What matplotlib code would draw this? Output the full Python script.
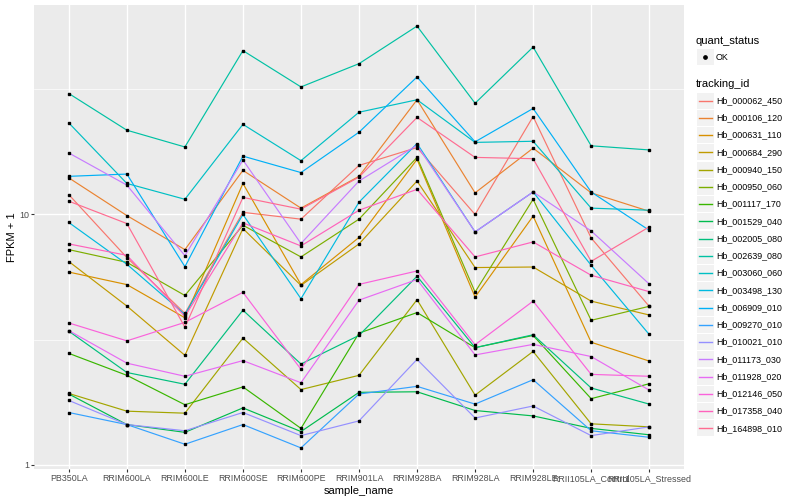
import matplotlib
matplotlib.use('Agg')
import matplotlib.pyplot as plt
import numpy as np
from matplotlib.patches import Rectangle
from matplotlib.lines import Line2D
from matplotlib.ticker import FixedLocator, NullFormatter

plt.rcParams['font.family'] = ['Liberation Sans', 'DejaVu Sans']

# samples on the x axis
samples = ['PB350LA', 'RRIM600LA', 'RRIM600LE', 'RRIM600SE', 'RRIM600PE', 'RRIM901LA',
           'RRIM928BA', 'RRIM928LA', 'RRIM928LE', 'RRII105LA_Control', 'RRII105LA_Stressed']

tracking_ids = ['Hb_000062_450', 'Hb_000106_120', 'Hb_000631_110', 'Hb_000684_290',
                'Hb_000940_150', 'Hb_000950_060', 'Hb_001117_170', 'Hb_001529_040',
                'Hb_002005_080', 'Hb_002639_080', 'Hb_003060_060', 'Hb_003498_130',
                'Hb_006909_010', 'Hb_009270_010', 'Hb_010021_010', 'Hb_011173_030',
                'Hb_011928_020', 'Hb_012146_050', 'Hb_017358_040', 'Hb_164898_010']

# ggplot hue palette, 20 levels
colors = ['#F8766D', '#EA8331', '#D89000', '#C09B00', '#A3A500', '#7CAE00', '#39B600',
          '#00BB4E', '#00BF7D', '#00C1A3', '#00BFC4', '#00BAE0', '#00B0F6', '#35A2FF',
          '#9590FF', '#C77CFF', '#E76BF3', '#FA62DB', '#FF62BC', '#FF6C91']

# FPKM + 1, one value per sample (same order as samples)
hb_000062_450 = [12.0, 6.73, 4.03, 10.2, 9.58, 15.7, 18.5, 10.0, 24.6, 8.06, 4.30]
hb_000106_120 = [14.0, 9.9, 7.24, 15.0, 10.6, 14.2, 28.7, 12.2, 18.4, 12.2, 10.3]
hb_000631_110 = [5.89, 5.25, 3.87, 13.3, 5.25, 8.1, 16.6, 4.68, 9.85, 3.09, 2.60]
hb_000684_290 = [6.49, 4.31, 2.74, 8.79, 5.21, 7.63, 13.6, 6.14, 6.17, 4.51, 3.97]
hb_000940_150 = [1.93, 1.64, 1.61, 3.21, 2.0, 2.28, 4.57, 1.90, 2.84, 1.46, 1.42]
hb_000950_060 = [7.24, 6.44, 4.75, 9.06, 6.77, 9.58, 16.9, 4.90, 11.5, 3.78, 4.30]
hb_001117_170 = [2.79, 2.28, 1.74, 2.05, 1.40, 3.36, 4.06, 2.94, 3.29, 1.84, 2.11]
hb_001529_040 = [1.92, 1.45, 1.35, 1.69, 1.36, 1.95, 1.96, 1.65, 1.57, 1.40, 1.32]
hb_002005_080 = [3.42, 2.34, 2.10, 4.15, 2.53, 3.29, 5.67, 2.94, 3.31, 2.03, 1.75]
hb_002639_080 = [30.4, 21.7, 18.6, 45.1, 32.3, 40.0, 56.5, 27.8, 46.6, 18.8, 18.1]
hb_003060_060 = [23.2, 13.3, 11.5, 22.9, 16.4, 25.6, 28.7, 19.4, 19.6, 10.6, 10.4]
hb_003498_130 = [9.29, 6.33, 3.99, 10.0, 4.61, 11.2, 19.2, 8.52, 12.3, 6.27, 3.32]
hb_006909_010 = [14.2, 14.5, 6.19, 17.1, 14.7, 21.3, 35.4, 19.5, 26.5, 12.3, 8.65]
hb_009270_010 = [1.62, 1.45, 1.21, 1.45, 1.17, 1.92, 2.06, 1.75, 2.19, 1.37, 1.29]
hb_010021_010 = [1.81, 1.45, 1.37, 1.62, 1.31, 1.50, 2.64, 1.54, 1.72, 1.31, 1.42]
hb_011173_030 = [17.6, 13.1, 6.85, 16.5, 7.66, 13.6, 18.9, 8.52, 12.3, 8.6, 5.28]
hb_011928_020 = [3.44, 2.55, 2.26, 2.61, 2.13, 4.55, 5.5, 2.75, 3.03, 2.71, 1.99]
hb_012146_050 = [3.69, 3.13, 3.71, 4.89, 2.41, 5.26, 5.95, 3.02, 4.51, 2.30, 2.26]
hb_017358_040 = [7.63, 6.87, 3.92, 9.26, 7.49, 10.4, 12.6, 6.77, 7.77, 5.72, 4.92]
hb_164898_010 = [11.3, 9.2, 3.55, 11.7, 10.5, 14.1, 24.4, 16.9, 16.7, 6.5, 8.92]

series = [hb_000062_450, hb_000106_120, hb_000631_110, hb_000684_290, hb_000940_150,
          hb_000950_060, hb_001117_170, hb_001529_040, hb_002005_080, hb_002639_080,
          hb_003060_060, hb_003498_130, hb_006909_010, hb_009270_010, hb_010021_010,
          hb_011173_030, hb_011928_020, hb_012146_050, hb_017358_040, hb_164898_010]

W, H = 800, 500
fig = plt.figure(figsize=(8, 5), dpi=100)
ax = fig.add_axes([34 / W, 31 / H, 650 / W, 464 / H])
ax.set_facecolor('#EBEBEB')

x = np.arange(len(samples))
for vals, col in zip(series, colors):
    ax.plot(x, vals, color=col, lw=0.85, zorder=2)
for vals in series:
    ax.plot(x, vals, 's', color='black', ms=2.1, zorder=3)

ax.set_yscale('log')
allv = np.log10(np.concatenate([np.array(s) for s in series]))
lo, hi = allv.min(), allv.max()
pad = (hi - lo) * 0.05
ax.set_ylim(10 ** (lo - pad), 10 ** (hi + pad))
ax.set_xlim(-0.6, len(samples) - 0.4)

ax.yaxis.set_major_locator(FixedLocator([1, 10]))
ax.set_yticklabels(['1', '10'])
ax.yaxis.set_minor_locator(FixedLocator([10 ** 0.5, 10 ** 1.5]))
ax.yaxis.set_minor_formatter(NullFormatter())
ax.set_xticks(x)
ax.set_xticklabels(samples)

ax.grid(True, which='major', color='white', lw=1.0, zorder=0)
ax.grid(True, which='minor', axis='y', color='white', lw=0.5, zorder=0)
ax.set_axisbelow(True)
for s in ax.spines.values():
    s.set_visible(False)
ax.tick_params(which='major', length=2.2, width=0.8, color='#333333',
               labelcolor='#4D4D4D', labelsize=6.4, pad=1.5)
ax.tick_params(which='minor', length=0)

ax.set_xlabel('sample_name', fontsize=8, labelpad=2)
ax.set_ylabel('FPKM + 1', fontsize=8, labelpad=1.5)


# legends, drawn in figure pixel coordinates
def fx(px):
    return px / W


def fy(py):
    return 1 - py / H


key_x, key_w, key_h = 697, 16.5, 16
fig.text(fx(696), fy(41), 'quant_status', fontsize=8, va='center', ha='left')
fig.patches.append(Rectangle((fx(key_x), fy(57 + key_h / 2)), key_w / W, key_h / H,
                             facecolor='#F2F2F2', edgecolor='none',
                             transform=fig.transFigure))
fig.lines.append(Line2D([fx(key_x + key_w / 2)], [fy(57)], marker='o', ms=2.4,
                        color='black', transform=fig.transFigure))
fig.text(fx(716), fy(57), 'OK', fontsize=6.4, va='center', ha='left')

fig.text(fx(696), fy(84), 'tracking_id', fontsize=8, va='center', ha='left')
for i, (tid, col) in enumerate(zip(tracking_ids, colors)):
    yc = 100.7 + i * 17.24
    fig.patches.append(Rectangle((fx(key_x), fy(yc + key_h / 2)), key_w / W, key_h / H,
                                 facecolor='#F2F2F2', edgecolor='none',
                                 transform=fig.transFigure))
    fig.lines.append(Line2D([fx(key_x + 2), fx(key_x + key_w - 2)], [fy(yc), fy(yc)],
                            color=col, lw=1.0, transform=fig.transFigure))
    fig.text(fx(716), fy(yc), tid, fontsize=6.4, va='center', ha='left')

fig.savefig('out.png', dpi=100)
